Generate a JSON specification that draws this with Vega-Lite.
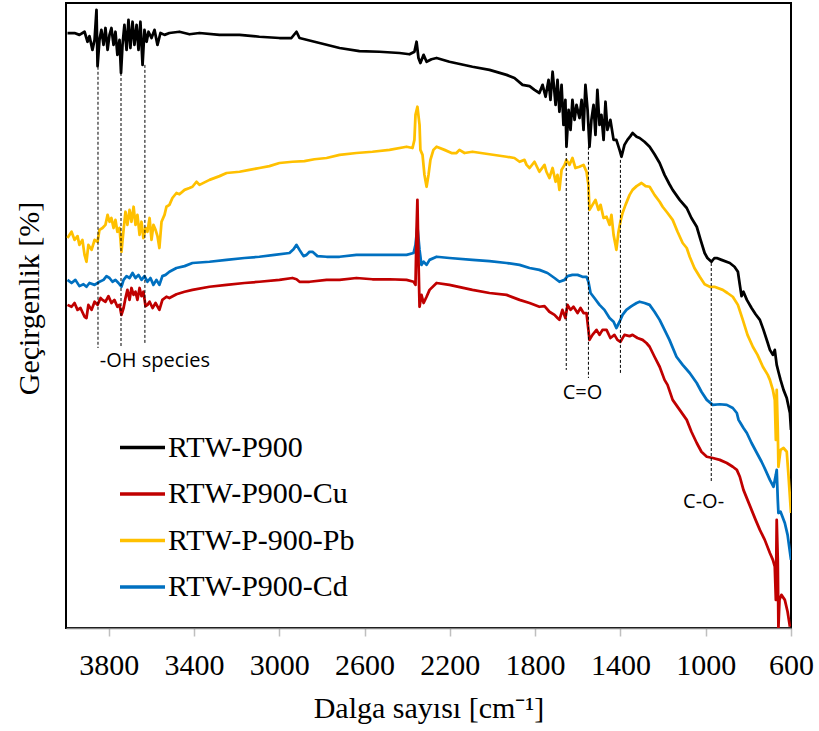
{
"$schema": "https://vega.github.io/schema/vega-lite/v6.json",
"width": 725, "height": 625,
"autosize": {"type": "none"},
"padding": {"left": 66, "top": 3, "right": 28, "bottom": 103},
"background": "white",
"config": {"view": {"stroke": "#000", "strokeWidth": 2}},
"datasets": {
"spec": [
{"s":"RTW-P900","wn":3993,"v":95.2},{"s":"RTW-P900","wn":3960,"v":95.2},{"s":"RTW-P900","wn":3937,"v":94.9},{"s":"RTW-P900","wn":3913,"v":95.4},{"s":"RTW-P900","wn":3899,"v":93.8},{"s":"RTW-P900","wn":3890,"v":94.7},{"s":"RTW-P900","wn":3876,"v":92.5},{"s":"RTW-P900","wn":3866,"v":94.1},{"s":"RTW-P900","wn":3857,"v":98.9},{"s":"RTW-P900","wn":3852,"v":89.9},{"s":"RTW-P900","wn":3843,"v":94.1},{"s":"RTW-P900","wn":3834,"v":95.7},{"s":"RTW-P900","wn":3824,"v":93.3},{"s":"RTW-P900","wn":3815,"v":96.0},{"s":"RTW-P900","wn":3805,"v":92.5},{"s":"RTW-P900","wn":3796,"v":94.9},{"s":"RTW-P900","wn":3787,"v":96.0},{"s":"RTW-P900","wn":3777,"v":93.3},{"s":"RTW-P900","wn":3768,"v":95.4},{"s":"RTW-P900","wn":3759,"v":91.7},{"s":"RTW-P900","wn":3749,"v":94.1},{"s":"RTW-P900","wn":3742,"v":88.8},{"s":"RTW-P900","wn":3735,"v":93.3},{"s":"RTW-P900","wn":3726,"v":96.5},{"s":"RTW-P900","wn":3716,"v":92.5},{"s":"RTW-P900","wn":3707,"v":97.3},{"s":"RTW-P900","wn":3698,"v":92.8},{"s":"RTW-P900","wn":3688,"v":97.0},{"s":"RTW-P900","wn":3679,"v":93.3},{"s":"RTW-P900","wn":3669,"v":96.5},{"s":"RTW-P900","wn":3660,"v":92.5},{"s":"RTW-P900","wn":3651,"v":97.0},{"s":"RTW-P900","wn":3641,"v":90.1},{"s":"RTW-P900","wn":3632,"v":95.7},{"s":"RTW-P900","wn":3622,"v":93.8},{"s":"RTW-P900","wn":3613,"v":95.4},{"s":"RTW-P900","wn":3599,"v":94.4},{"s":"RTW-P900","wn":3585,"v":95.7},{"s":"RTW-P900","wn":3571,"v":93.3},{"s":"RTW-P900","wn":3557,"v":95.2},{"s":"RTW-P900","wn":3538,"v":94.9},{"s":"RTW-P900","wn":3515,"v":95.2},{"s":"RTW-P900","wn":3468,"v":95.4},{"s":"RTW-P900","wn":3421,"v":95.0},{"s":"RTW-P900","wn":3374,"v":95.2},{"s":"RTW-P900","wn":3280,"v":94.9},{"s":"RTW-P900","wn":3186,"v":94.9},{"s":"RTW-P900","wn":3093,"v":94.6},{"s":"RTW-P900","wn":2999,"v":94.4},{"s":"RTW-P900","wn":2943,"v":94.4},{"s":"RTW-P900","wn":2919,"v":95.4},{"s":"RTW-P900","wn":2905,"v":94.4},{"s":"RTW-P900","wn":2811,"v":93.6},{"s":"RTW-P900","wn":2717,"v":92.8},{"s":"RTW-P900","wn":2624,"v":92.3},{"s":"RTW-P900","wn":2530,"v":92.2},{"s":"RTW-P900","wn":2436,"v":92.0},{"s":"RTW-P900","wn":2389,"v":91.8},{"s":"RTW-P900","wn":2366,"v":92.2},{"s":"RTW-P900","wn":2356,"v":93.8},{"s":"RTW-P900","wn":2347,"v":91.2},{"s":"RTW-P900","wn":2338,"v":90.4},{"s":"RTW-P900","wn":2323,"v":91.7},{"s":"RTW-P900","wn":2309,"v":90.6},{"s":"RTW-P900","wn":2286,"v":91.0},{"s":"RTW-P900","wn":2262,"v":91.2},{"s":"RTW-P900","wn":2202,"v":90.6},{"s":"RTW-P900","wn":2094,"v":89.8},{"s":"RTW-P900","wn":2014,"v":89.3},{"s":"RTW-P900","wn":1934,"v":88.5},{"s":"RTW-P900","wn":1897,"v":88.0},{"s":"RTW-P900","wn":1859,"v":86.9},{"s":"RTW-P900","wn":1826,"v":86.7},{"s":"RTW-P900","wn":1803,"v":86.1},{"s":"RTW-P900","wn":1780,"v":85.6},{"s":"RTW-P900","wn":1765,"v":86.9},{"s":"RTW-P900","wn":1751,"v":85.0},{"s":"RTW-P900","wn":1737,"v":87.7},{"s":"RTW-P900","wn":1728,"v":84.5},{"s":"RTW-P900","wn":1718,"v":89.0},{"s":"RTW-P900","wn":1704,"v":83.7},{"s":"RTW-P900","wn":1695,"v":87.7},{"s":"RTW-P900","wn":1686,"v":82.6},{"s":"RTW-P900","wn":1676,"v":86.9},{"s":"RTW-P900","wn":1667,"v":80.5},{"s":"RTW-P900","wn":1658,"v":84.5},{"s":"RTW-P900","wn":1653,"v":77.0},{"s":"RTW-P900","wn":1643,"v":82.9},{"s":"RTW-P900","wn":1634,"v":79.7},{"s":"RTW-P900","wn":1625,"v":84.5},{"s":"RTW-P900","wn":1615,"v":81.3},{"s":"RTW-P900","wn":1606,"v":83.7},{"s":"RTW-P900","wn":1592,"v":81.6},{"s":"RTW-P900","wn":1582,"v":84.5},{"s":"RTW-P900","wn":1573,"v":79.7},{"s":"RTW-P900","wn":1564,"v":86.9},{"s":"RTW-P900","wn":1554,"v":82.9},{"s":"RTW-P900","wn":1545,"v":77.0},{"s":"RTW-P900","wn":1536,"v":81.3},{"s":"RTW-P900","wn":1526,"v":83.7},{"s":"RTW-P900","wn":1517,"v":78.9},{"s":"RTW-P900","wn":1508,"v":86.1},{"s":"RTW-P900","wn":1498,"v":80.5},{"s":"RTW-P900","wn":1489,"v":82.1},{"s":"RTW-P900","wn":1479,"v":78.1},{"s":"RTW-P900","wn":1470,"v":84.2},{"s":"RTW-P900","wn":1461,"v":79.7},{"s":"RTW-P900","wn":1447,"v":81.3},{"s":"RTW-P900","wn":1432,"v":78.1},{"s":"RTW-P900","wn":1419,"v":78.1},{"s":"RTW-P900","wn":1404,"v":76.5},{"s":"RTW-P900","wn":1395,"v":75.4},{"s":"RTW-P900","wn":1381,"v":77.3},{"s":"RTW-P900","wn":1367,"v":78.1},{"s":"RTW-P900","wn":1353,"v":78.7},{"s":"RTW-P900","wn":1343,"v":79.2},{"s":"RTW-P900","wn":1324,"v":78.6},{"s":"RTW-P900","wn":1310,"v":78.4},{"s":"RTW-P900","wn":1287,"v":77.8},{"s":"RTW-P900","wn":1263,"v":77.0},{"s":"RTW-P900","wn":1240,"v":75.8},{"s":"RTW-P900","wn":1216,"v":74.4},{"s":"RTW-P900","wn":1193,"v":72.5},{"s":"RTW-P900","wn":1170,"v":71.0},{"s":"RTW-P900","wn":1155,"v":70.1},{"s":"RTW-P900","wn":1122,"v":68.5},{"s":"RTW-P900","wn":1089,"v":67.2},{"s":"RTW-P900","wn":1067,"v":65.6},{"s":"RTW-P900","wn":1042,"v":64.2},{"s":"RTW-P900","wn":1024,"v":62.1},{"s":"RTW-P900","wn":1005,"v":60.0},{"s":"RTW-P900","wn":992,"v":59.2},{"s":"RTW-P900","wn":973,"v":58.6},{"s":"RTW-P900","wn":959,"v":59.2},{"s":"RTW-P900","wn":948,"v":59.2},{"s":"RTW-P900","wn":926,"v":58.9},{"s":"RTW-P900","wn":887,"v":58.4},{"s":"RTW-P900","wn":865,"v":57.8},{"s":"RTW-P900","wn":849,"v":57.0},{"s":"RTW-P900","wn":840,"v":54.9},{"s":"RTW-P900","wn":832,"v":53.1},{"s":"RTW-P900","wn":823,"v":53.8},{"s":"RTW-P900","wn":807,"v":52.5},{"s":"RTW-P900","wn":785,"v":51.2},{"s":"RTW-P900","wn":766,"v":50.2},{"s":"RTW-P900","wn":746,"v":49.3},{"s":"RTW-P900","wn":729,"v":47.7},{"s":"RTW-P900","wn":709,"v":45.6},{"s":"RTW-P900","wn":699,"v":44.5},{"s":"RTW-P900","wn":685,"v":43.7},{"s":"RTW-P900","wn":676,"v":44.5},{"s":"RTW-P900","wn":667,"v":42.1},{"s":"RTW-P900","wn":659,"v":41.0},{"s":"RTW-P900","wn":649,"v":39.7},{"s":"RTW-P900","wn":635,"v":38.1},{"s":"RTW-P900","wn":620,"v":36.8},{"s":"RTW-P900","wn":605,"v":34.4},{"s":"RTW-P900","wn":600,"v":31.7},
{"s":"RTW-P-900-Pb","wn":3993,"v":62.4},{"s":"RTW-P-900-Pb","wn":3974,"v":63.4},{"s":"RTW-P-900-Pb","wn":3960,"v":62.1},{"s":"RTW-P-900-Pb","wn":3946,"v":62.7},{"s":"RTW-P-900-Pb","wn":3937,"v":61.3},{"s":"RTW-P-900-Pb","wn":3923,"v":62.1},{"s":"RTW-P-900-Pb","wn":3913,"v":59.7},{"s":"RTW-P-900-Pb","wn":3904,"v":58.6},{"s":"RTW-P-900-Pb","wn":3895,"v":61.3},{"s":"RTW-P-900-Pb","wn":3880,"v":60.5},{"s":"RTW-P-900-Pb","wn":3866,"v":62.1},{"s":"RTW-P-900-Pb","wn":3852,"v":61.8},{"s":"RTW-P-900-Pb","wn":3843,"v":63.7},{"s":"RTW-P-900-Pb","wn":3829,"v":64.0},{"s":"RTW-P-900-Pb","wn":3815,"v":64.5},{"s":"RTW-P-900-Pb","wn":3805,"v":66.1},{"s":"RTW-P-900-Pb","wn":3796,"v":65.0},{"s":"RTW-P-900-Pb","wn":3787,"v":65.6},{"s":"RTW-P-900-Pb","wn":3777,"v":64.0},{"s":"RTW-P-900-Pb","wn":3768,"v":65.3},{"s":"RTW-P-900-Pb","wn":3759,"v":63.4},{"s":"RTW-P-900-Pb","wn":3749,"v":64.0},{"s":"RTW-P-900-Pb","wn":3740,"v":60.2},{"s":"RTW-P-900-Pb","wn":3730,"v":63.7},{"s":"RTW-P-900-Pb","wn":3721,"v":66.6},{"s":"RTW-P-900-Pb","wn":3712,"v":64.5},{"s":"RTW-P-900-Pb","wn":3702,"v":66.9},{"s":"RTW-P-900-Pb","wn":3693,"v":65.0},{"s":"RTW-P-900-Pb","wn":3683,"v":67.4},{"s":"RTW-P-900-Pb","wn":3674,"v":64.5},{"s":"RTW-P-900-Pb","wn":3665,"v":66.1},{"s":"RTW-P-900-Pb","wn":3655,"v":62.9},{"s":"RTW-P-900-Pb","wn":3646,"v":65.0},{"s":"RTW-P-900-Pb","wn":3637,"v":62.4},{"s":"RTW-P-900-Pb","wn":3627,"v":64.0},{"s":"RTW-P-900-Pb","wn":3618,"v":63.4},{"s":"RTW-P-900-Pb","wn":3608,"v":65.6},{"s":"RTW-P-900-Pb","wn":3599,"v":62.1},{"s":"RTW-P-900-Pb","wn":3590,"v":64.5},{"s":"RTW-P-900-Pb","wn":3580,"v":63.7},{"s":"RTW-P-900-Pb","wn":3571,"v":62.7},{"s":"RTW-P-900-Pb","wn":3562,"v":60.8},{"s":"RTW-P-900-Pb","wn":3552,"v":65.0},{"s":"RTW-P-900-Pb","wn":3538,"v":66.1},{"s":"RTW-P-900-Pb","wn":3529,"v":67.4},{"s":"RTW-P-900-Pb","wn":3515,"v":67.7},{"s":"RTW-P-900-Pb","wn":3501,"v":68.8},{"s":"RTW-P-900-Pb","wn":3482,"v":69.6},{"s":"RTW-P-900-Pb","wn":3468,"v":69.4},{"s":"RTW-P-900-Pb","wn":3444,"v":70.1},{"s":"RTW-P-900-Pb","wn":3421,"v":70.4},{"s":"RTW-P-900-Pb","wn":3407,"v":70.6},{"s":"RTW-P-900-Pb","wn":3388,"v":71.4},{"s":"RTW-P-900-Pb","wn":3374,"v":70.9},{"s":"RTW-P-900-Pb","wn":3327,"v":71.7},{"s":"RTW-P-900-Pb","wn":3280,"v":72.3},{"s":"RTW-P-900-Pb","wn":3247,"v":72.8},{"s":"RTW-P-900-Pb","wn":3186,"v":73.0},{"s":"RTW-P-900-Pb","wn":3140,"v":73.3},{"s":"RTW-P-900-Pb","wn":3093,"v":73.6},{"s":"RTW-P-900-Pb","wn":3046,"v":73.9},{"s":"RTW-P-900-Pb","wn":2999,"v":74.4},{"s":"RTW-P-900-Pb","wn":2938,"v":74.6},{"s":"RTW-P-900-Pb","wn":2882,"v":74.7},{"s":"RTW-P-900-Pb","wn":2835,"v":75.0},{"s":"RTW-P-900-Pb","wn":2778,"v":75.2},{"s":"RTW-P-900-Pb","wn":2717,"v":75.7},{"s":"RTW-P-900-Pb","wn":2638,"v":76.0},{"s":"RTW-P-900-Pb","wn":2563,"v":76.2},{"s":"RTW-P-900-Pb","wn":2483,"v":76.5},{"s":"RTW-P-900-Pb","wn":2403,"v":77.0},{"s":"RTW-P-900-Pb","wn":2375,"v":76.8},{"s":"RTW-P-900-Pb","wn":2366,"v":78.1},{"s":"RTW-P-900-Pb","wn":2361,"v":82.1},{"s":"RTW-P-900-Pb","wn":2352,"v":83.4},{"s":"RTW-P-900-Pb","wn":2342,"v":80.5},{"s":"RTW-P-900-Pb","wn":2338,"v":76.5},{"s":"RTW-P-900-Pb","wn":2328,"v":75.7},{"s":"RTW-P-900-Pb","wn":2319,"v":72.5},{"s":"RTW-P-900-Pb","wn":2309,"v":70.6},{"s":"RTW-P-900-Pb","wn":2300,"v":72.5},{"s":"RTW-P-900-Pb","wn":2291,"v":74.9},{"s":"RTW-P-900-Pb","wn":2277,"v":76.5},{"s":"RTW-P-900-Pb","wn":2262,"v":77.0},{"s":"RTW-P-900-Pb","wn":2225,"v":76.5},{"s":"RTW-P-900-Pb","wn":2192,"v":76.0},{"s":"RTW-P-900-Pb","wn":2169,"v":76.0},{"s":"RTW-P-900-Pb","wn":2155,"v":76.5},{"s":"RTW-P-900-Pb","wn":2131,"v":76.0},{"s":"RTW-P-900-Pb","wn":2094,"v":76.2},{"s":"RTW-P-900-Pb","wn":2014,"v":75.8},{"s":"RTW-P-900-Pb","wn":1934,"v":75.4},{"s":"RTW-P-900-Pb","wn":1897,"v":75.2},{"s":"RTW-P-900-Pb","wn":1873,"v":74.6},{"s":"RTW-P-900-Pb","wn":1850,"v":74.9},{"s":"RTW-P-900-Pb","wn":1840,"v":74.1},{"s":"RTW-P-900-Pb","wn":1826,"v":73.6},{"s":"RTW-P-900-Pb","wn":1803,"v":74.6},{"s":"RTW-P-900-Pb","wn":1780,"v":73.0},{"s":"RTW-P-900-Pb","wn":1756,"v":74.1},{"s":"RTW-P-900-Pb","wn":1747,"v":73.0},{"s":"RTW-P-900-Pb","wn":1733,"v":72.0},{"s":"RTW-P-900-Pb","wn":1718,"v":73.6},{"s":"RTW-P-900-Pb","wn":1704,"v":71.4},{"s":"RTW-P-900-Pb","wn":1695,"v":72.5},{"s":"RTW-P-900-Pb","wn":1686,"v":70.1},{"s":"RTW-P-900-Pb","wn":1676,"v":73.3},{"s":"RTW-P-900-Pb","wn":1662,"v":74.1},{"s":"RTW-P-900-Pb","wn":1653,"v":74.9},{"s":"RTW-P-900-Pb","wn":1639,"v":74.1},{"s":"RTW-P-900-Pb","wn":1625,"v":75.2},{"s":"RTW-P-900-Pb","wn":1611,"v":73.6},{"s":"RTW-P-900-Pb","wn":1592,"v":73.8},{"s":"RTW-P-900-Pb","wn":1573,"v":74.1},{"s":"RTW-P-900-Pb","wn":1559,"v":73.0},{"s":"RTW-P-900-Pb","wn":1550,"v":70.9},{"s":"RTW-P-900-Pb","wn":1545,"v":66.9},{"s":"RTW-P-900-Pb","wn":1531,"v":67.7},{"s":"RTW-P-900-Pb","wn":1517,"v":68.5},{"s":"RTW-P-900-Pb","wn":1503,"v":66.9},{"s":"RTW-P-900-Pb","wn":1493,"v":67.7},{"s":"RTW-P-900-Pb","wn":1479,"v":65.6},{"s":"RTW-P-900-Pb","wn":1465,"v":65.8},{"s":"RTW-P-900-Pb","wn":1451,"v":64.5},{"s":"RTW-P-900-Pb","wn":1442,"v":66.1},{"s":"RTW-P-900-Pb","wn":1432,"v":62.9},{"s":"RTW-P-900-Pb","wn":1423,"v":61.3},{"s":"RTW-P-900-Pb","wn":1419,"v":60.5},{"s":"RTW-P-900-Pb","wn":1409,"v":63.4},{"s":"RTW-P-900-Pb","wn":1400,"v":65.0},{"s":"RTW-P-900-Pb","wn":1390,"v":66.4},{"s":"RTW-P-900-Pb","wn":1376,"v":67.7},{"s":"RTW-P-900-Pb","wn":1357,"v":69.3},{"s":"RTW-P-900-Pb","wn":1343,"v":70.1},{"s":"RTW-P-900-Pb","wn":1324,"v":70.7},{"s":"RTW-P-900-Pb","wn":1301,"v":71.2},{"s":"RTW-P-900-Pb","wn":1282,"v":70.7},{"s":"RTW-P-900-Pb","wn":1263,"v":70.6},{"s":"RTW-P-900-Pb","wn":1240,"v":69.3},{"s":"RTW-P-900-Pb","wn":1216,"v":68.2},{"s":"RTW-P-900-Pb","wn":1202,"v":67.4},{"s":"RTW-P-900-Pb","wn":1179,"v":66.4},{"s":"RTW-P-900-Pb","wn":1155,"v":65.3},{"s":"RTW-P-900-Pb","wn":1132,"v":63.4},{"s":"RTW-P-900-Pb","wn":1108,"v":61.6},{"s":"RTW-P-900-Pb","wn":1089,"v":60.8},{"s":"RTW-P-900-Pb","wn":1075,"v":59.4},{"s":"RTW-P-900-Pb","wn":1053,"v":57.6},{"s":"RTW-P-900-Pb","wn":1028,"v":56.2},{"s":"RTW-P-900-Pb","wn":1005,"v":55.0},{"s":"RTW-P-900-Pb","wn":981,"v":54.6},{"s":"RTW-P-900-Pb","wn":959,"v":54.6},{"s":"RTW-P-900-Pb","wn":920,"v":54.1},{"s":"RTW-P-900-Pb","wn":898,"v":53.6},{"s":"RTW-P-900-Pb","wn":873,"v":53.0},{"s":"RTW-P-900-Pb","wn":849,"v":51.7},{"s":"RTW-P-900-Pb","wn":826,"v":49.3},{"s":"RTW-P-900-Pb","wn":804,"v":46.9},{"s":"RTW-P-900-Pb","wn":779,"v":45.0},{"s":"RTW-P-900-Pb","wn":757,"v":43.7},{"s":"RTW-P-900-Pb","wn":732,"v":41.8},{"s":"RTW-P-900-Pb","wn":709,"v":40.5},{"s":"RTW-P-900-Pb","wn":699,"v":39.7},{"s":"RTW-P-900-Pb","wn":685,"v":38.1},{"s":"RTW-P-900-Pb","wn":676,"v":36.5},{"s":"RTW-P-900-Pb","wn":671,"v":30.1},{"s":"RTW-P-900-Pb","wn":667,"v":38.1},{"s":"RTW-P-900-Pb","wn":662,"v":31.7},{"s":"RTW-P-900-Pb","wn":659,"v":25.8},{"s":"RTW-P-900-Pb","wn":649,"v":28.5},{"s":"RTW-P-900-Pb","wn":635,"v":28.8},{"s":"RTW-P-900-Pb","wn":620,"v":28.2},{"s":"RTW-P-900-Pb","wn":612,"v":24.5},{"s":"RTW-P-900-Pb","wn":600,"v":18.4},
{"s":"RTW-P900-Cd","wn":3993,"v":55.7},{"s":"RTW-P900-Cd","wn":3974,"v":55.2},{"s":"RTW-P900-Cd","wn":3956,"v":55.7},{"s":"RTW-P900-Cd","wn":3937,"v":54.7},{"s":"RTW-P900-Cd","wn":3918,"v":55.0},{"s":"RTW-P900-Cd","wn":3904,"v":54.6},{"s":"RTW-P900-Cd","wn":3890,"v":55.2},{"s":"RTW-P900-Cd","wn":3866,"v":54.9},{"s":"RTW-P900-Cd","wn":3843,"v":55.4},{"s":"RTW-P900-Cd","wn":3824,"v":55.7},{"s":"RTW-P900-Cd","wn":3810,"v":56.3},{"s":"RTW-P900-Cd","wn":3796,"v":56.0},{"s":"RTW-P900-Cd","wn":3782,"v":55.4},{"s":"RTW-P900-Cd","wn":3768,"v":55.7},{"s":"RTW-P900-Cd","wn":3754,"v":55.2},{"s":"RTW-P900-Cd","wn":3740,"v":54.6},{"s":"RTW-P900-Cd","wn":3730,"v":55.7},{"s":"RTW-P900-Cd","wn":3716,"v":56.3},{"s":"RTW-P900-Cd","wn":3702,"v":56.0},{"s":"RTW-P900-Cd","wn":3688,"v":56.8},{"s":"RTW-P900-Cd","wn":3674,"v":56.0},{"s":"RTW-P900-Cd","wn":3660,"v":56.5},{"s":"RTW-P900-Cd","wn":3646,"v":55.7},{"s":"RTW-P900-Cd","wn":3632,"v":56.3},{"s":"RTW-P900-Cd","wn":3618,"v":55.4},{"s":"RTW-P900-Cd","wn":3604,"v":56.0},{"s":"RTW-P900-Cd","wn":3590,"v":54.9},{"s":"RTW-P900-Cd","wn":3576,"v":55.7},{"s":"RTW-P900-Cd","wn":3562,"v":54.9},{"s":"RTW-P900-Cd","wn":3548,"v":56.3},{"s":"RTW-P900-Cd","wn":3533,"v":56.5},{"s":"RTW-P900-Cd","wn":3515,"v":57.0},{"s":"RTW-P900-Cd","wn":3482,"v":57.6},{"s":"RTW-P900-Cd","wn":3444,"v":57.9},{"s":"RTW-P900-Cd","wn":3407,"v":58.4},{"s":"RTW-P900-Cd","wn":3327,"v":58.6},{"s":"RTW-P900-Cd","wn":3247,"v":58.9},{"s":"RTW-P900-Cd","wn":3163,"v":59.2},{"s":"RTW-P900-Cd","wn":3093,"v":59.4},{"s":"RTW-P900-Cd","wn":3022,"v":59.7},{"s":"RTW-P900-Cd","wn":2952,"v":60.0},{"s":"RTW-P900-Cd","wn":2933,"v":60.6},{"s":"RTW-P900-Cd","wn":2919,"v":61.3},{"s":"RTW-P900-Cd","wn":2905,"v":60.5},{"s":"RTW-P900-Cd","wn":2886,"v":59.5},{"s":"RTW-P900-Cd","wn":2872,"v":59.7},{"s":"RTW-P900-Cd","wn":2858,"v":60.2},{"s":"RTW-P900-Cd","wn":2844,"v":60.2},{"s":"RTW-P900-Cd","wn":2821,"v":59.5},{"s":"RTW-P900-Cd","wn":2778,"v":59.4},{"s":"RTW-P900-Cd","wn":2717,"v":59.4},{"s":"RTW-P900-Cd","wn":2638,"v":59.7},{"s":"RTW-P900-Cd","wn":2563,"v":59.7},{"s":"RTW-P900-Cd","wn":2483,"v":59.7},{"s":"RTW-P900-Cd","wn":2403,"v":59.7},{"s":"RTW-P900-Cd","wn":2370,"v":60.0},{"s":"RTW-P900-Cd","wn":2361,"v":61.3},{"s":"RTW-P900-Cd","wn":2352,"v":64.2},{"s":"RTW-P900-Cd","wn":2342,"v":60.5},{"s":"RTW-P900-Cd","wn":2333,"v":58.1},{"s":"RTW-P900-Cd","wn":2323,"v":58.6},{"s":"RTW-P900-Cd","wn":2309,"v":58.1},{"s":"RTW-P900-Cd","wn":2295,"v":58.9},{"s":"RTW-P900-Cd","wn":2262,"v":59.4},{"s":"RTW-P900-Cd","wn":2202,"v":59.2},{"s":"RTW-P900-Cd","wn":2094,"v":58.9},{"s":"RTW-P900-Cd","wn":2014,"v":58.7},{"s":"RTW-P900-Cd","wn":1934,"v":58.4},{"s":"RTW-P900-Cd","wn":1873,"v":58.1},{"s":"RTW-P900-Cd","wn":1826,"v":57.6},{"s":"RTW-P900-Cd","wn":1780,"v":57.3},{"s":"RTW-P900-Cd","wn":1742,"v":56.8},{"s":"RTW-P900-Cd","wn":1709,"v":56.0},{"s":"RTW-P900-Cd","wn":1686,"v":55.4},{"s":"RTW-P900-Cd","wn":1662,"v":55.7},{"s":"RTW-P900-Cd","wn":1648,"v":56.3},{"s":"RTW-P900-Cd","wn":1625,"v":56.5},{"s":"RTW-P900-Cd","wn":1601,"v":56.5},{"s":"RTW-P900-Cd","wn":1578,"v":56.2},{"s":"RTW-P900-Cd","wn":1559,"v":56.2},{"s":"RTW-P900-Cd","wn":1550,"v":55.4},{"s":"RTW-P900-Cd","wn":1540,"v":53.6},{"s":"RTW-P900-Cd","wn":1522,"v":52.8},{"s":"RTW-P900-Cd","wn":1498,"v":51.7},{"s":"RTW-P900-Cd","wn":1475,"v":50.9},{"s":"RTW-P900-Cd","wn":1451,"v":49.6},{"s":"RTW-P900-Cd","wn":1432,"v":49.0},{"s":"RTW-P900-Cd","wn":1419,"v":48.0},{"s":"RTW-P900-Cd","wn":1404,"v":49.0},{"s":"RTW-P900-Cd","wn":1390,"v":50.1},{"s":"RTW-P900-Cd","wn":1372,"v":50.9},{"s":"RTW-P900-Cd","wn":1348,"v":51.5},{"s":"RTW-P900-Cd","wn":1324,"v":52.0},{"s":"RTW-P900-Cd","wn":1310,"v":52.2},{"s":"RTW-P900-Cd","wn":1287,"v":52.0},{"s":"RTW-P900-Cd","wn":1263,"v":51.7},{"s":"RTW-P900-Cd","wn":1240,"v":50.6},{"s":"RTW-P900-Cd","wn":1216,"v":49.3},{"s":"RTW-P900-Cd","wn":1193,"v":47.7},{"s":"RTW-P900-Cd","wn":1170,"v":46.1},{"s":"RTW-P900-Cd","wn":1137,"v":43.4},{"s":"RTW-P900-Cd","wn":1108,"v":42.1},{"s":"RTW-P900-Cd","wn":1075,"v":40.8},{"s":"RTW-P900-Cd","wn":1042,"v":39.2},{"s":"RTW-P900-Cd","wn":1020,"v":37.8},{"s":"RTW-P900-Cd","wn":995,"v":36.5},{"s":"RTW-P900-Cd","wn":967,"v":35.7},{"s":"RTW-P900-Cd","wn":934,"v":35.8},{"s":"RTW-P900-Cd","wn":901,"v":35.7},{"s":"RTW-P900-Cd","wn":873,"v":35.2},{"s":"RTW-P900-Cd","wn":854,"v":34.4},{"s":"RTW-P900-Cd","wn":846,"v":33.3},{"s":"RTW-P900-Cd","wn":837,"v":32.8},{"s":"RTW-P900-Cd","wn":823,"v":32.0},{"s":"RTW-P900-Cd","wn":807,"v":31.2},{"s":"RTW-P900-Cd","wn":785,"v":29.6},{"s":"RTW-P900-Cd","wn":760,"v":28.0},{"s":"RTW-P900-Cd","wn":738,"v":26.6},{"s":"RTW-P900-Cd","wn":720,"v":25.3},{"s":"RTW-P900-Cd","wn":699,"v":23.7},{"s":"RTW-P900-Cd","wn":682,"v":22.6},{"s":"RTW-P900-Cd","wn":671,"v":24.5},{"s":"RTW-P900-Cd","wn":667,"v":25.3},{"s":"RTW-P900-Cd","wn":662,"v":20.5},{"s":"RTW-P900-Cd","wn":659,"v":18.4},{"s":"RTW-P900-Cd","wn":649,"v":18.6},{"s":"RTW-P900-Cd","wn":629,"v":16.8},{"s":"RTW-P900-Cd","wn":616,"v":14.9},{"s":"RTW-P900-Cd","wn":600,"v":10.9},
{"s":"RTW-P900-Cu","wn":3993,"v":51.7},{"s":"RTW-P900-Cu","wn":3974,"v":51.4},{"s":"RTW-P900-Cu","wn":3960,"v":52.0},{"s":"RTW-P900-Cu","wn":3946,"v":50.9},{"s":"RTW-P900-Cu","wn":3932,"v":51.2},{"s":"RTW-P900-Cu","wn":3913,"v":49.8},{"s":"RTW-P900-Cu","wn":3904,"v":49.6},{"s":"RTW-P900-Cu","wn":3895,"v":51.7},{"s":"RTW-P900-Cu","wn":3880,"v":50.9},{"s":"RTW-P900-Cu","wn":3866,"v":52.2},{"s":"RTW-P900-Cu","wn":3852,"v":51.7},{"s":"RTW-P900-Cu","wn":3838,"v":52.8},{"s":"RTW-P900-Cu","wn":3829,"v":52.5},{"s":"RTW-P900-Cu","wn":3815,"v":52.2},{"s":"RTW-P900-Cu","wn":3801,"v":53.1},{"s":"RTW-P900-Cu","wn":3787,"v":52.0},{"s":"RTW-P900-Cu","wn":3773,"v":52.5},{"s":"RTW-P900-Cu","wn":3759,"v":51.4},{"s":"RTW-P900-Cu","wn":3749,"v":51.7},{"s":"RTW-P900-Cu","wn":3740,"v":50.1},{"s":"RTW-P900-Cu","wn":3730,"v":51.2},{"s":"RTW-P900-Cu","wn":3721,"v":52.8},{"s":"RTW-P900-Cu","wn":3712,"v":54.1},{"s":"RTW-P900-Cu","wn":3702,"v":52.5},{"s":"RTW-P900-Cu","wn":3693,"v":54.4},{"s":"RTW-P900-Cu","wn":3683,"v":53.3},{"s":"RTW-P900-Cu","wn":3674,"v":53.8},{"s":"RTW-P900-Cu","wn":3665,"v":52.5},{"s":"RTW-P900-Cu","wn":3655,"v":54.4},{"s":"RTW-P900-Cu","wn":3646,"v":53.1},{"s":"RTW-P900-Cu","wn":3637,"v":53.8},{"s":"RTW-P900-Cu","wn":3627,"v":51.5},{"s":"RTW-P900-Cu","wn":3618,"v":51.7},{"s":"RTW-P900-Cu","wn":3608,"v":52.2},{"s":"RTW-P900-Cu","wn":3594,"v":51.2},{"s":"RTW-P900-Cu","wn":3580,"v":52.0},{"s":"RTW-P900-Cu","wn":3562,"v":50.9},{"s":"RTW-P900-Cu","wn":3548,"v":52.5},{"s":"RTW-P900-Cu","wn":3529,"v":53.0},{"s":"RTW-P900-Cu","wn":3515,"v":52.8},{"s":"RTW-P900-Cu","wn":3482,"v":53.4},{"s":"RTW-P900-Cu","wn":3444,"v":53.8},{"s":"RTW-P900-Cu","wn":3407,"v":54.1},{"s":"RTW-P900-Cu","wn":3327,"v":54.6},{"s":"RTW-P900-Cu","wn":3247,"v":54.9},{"s":"RTW-P900-Cu","wn":3163,"v":55.2},{"s":"RTW-P900-Cu","wn":3093,"v":55.4},{"s":"RTW-P900-Cu","wn":2999,"v":55.7},{"s":"RTW-P900-Cu","wn":2938,"v":56.0},{"s":"RTW-P900-Cu","wn":2919,"v":55.8},{"s":"RTW-P900-Cu","wn":2905,"v":55.4},{"s":"RTW-P900-Cu","wn":2858,"v":55.4},{"s":"RTW-P900-Cu","wn":2778,"v":55.7},{"s":"RTW-P900-Cu","wn":2717,"v":55.7},{"s":"RTW-P900-Cu","wn":2638,"v":56.0},{"s":"RTW-P900-Cu","wn":2563,"v":55.8},{"s":"RTW-P900-Cu","wn":2483,"v":55.8},{"s":"RTW-P900-Cu","wn":2403,"v":55.7},{"s":"RTW-P900-Cu","wn":2370,"v":55.4},{"s":"RTW-P900-Cu","wn":2361,"v":54.9},{"s":"RTW-P900-Cu","wn":2356,"v":63.7},{"s":"RTW-P900-Cu","wn":2352,"v":68.5},{"s":"RTW-P900-Cu","wn":2347,"v":58.9},{"s":"RTW-P900-Cu","wn":2342,"v":51.4},{"s":"RTW-P900-Cu","wn":2333,"v":53.3},{"s":"RTW-P900-Cu","wn":2323,"v":52.0},{"s":"RTW-P900-Cu","wn":2309,"v":53.0},{"s":"RTW-P900-Cu","wn":2295,"v":54.1},{"s":"RTW-P900-Cu","wn":2262,"v":55.2},{"s":"RTW-P900-Cu","wn":2202,"v":54.9},{"s":"RTW-P900-Cu","wn":2094,"v":54.1},{"s":"RTW-P900-Cu","wn":2014,"v":53.6},{"s":"RTW-P900-Cu","wn":1934,"v":53.3},{"s":"RTW-P900-Cu","wn":1873,"v":52.5},{"s":"RTW-P900-Cu","wn":1826,"v":52.0},{"s":"RTW-P900-Cu","wn":1780,"v":51.4},{"s":"RTW-P900-Cu","wn":1756,"v":51.5},{"s":"RTW-P900-Cu","wn":1733,"v":50.6},{"s":"RTW-P900-Cu","wn":1709,"v":50.1},{"s":"RTW-P900-Cu","wn":1695,"v":49.6},{"s":"RTW-P900-Cu","wn":1686,"v":49.3},{"s":"RTW-P900-Cu","wn":1672,"v":50.9},{"s":"RTW-P900-Cu","wn":1658,"v":49.6},{"s":"RTW-P900-Cu","wn":1648,"v":51.7},{"s":"RTW-P900-Cu","wn":1634,"v":50.9},{"s":"RTW-P900-Cu","wn":1620,"v":51.4},{"s":"RTW-P900-Cu","wn":1601,"v":50.4},{"s":"RTW-P900-Cu","wn":1587,"v":51.2},{"s":"RTW-P900-Cu","wn":1573,"v":50.4},{"s":"RTW-P900-Cu","wn":1559,"v":50.4},{"s":"RTW-P900-Cu","wn":1550,"v":47.7},{"s":"RTW-P900-Cu","wn":1545,"v":46.1},{"s":"RTW-P900-Cu","wn":1531,"v":46.9},{"s":"RTW-P900-Cu","wn":1512,"v":47.7},{"s":"RTW-P900-Cu","wn":1498,"v":46.9},{"s":"RTW-P900-Cu","wn":1484,"v":47.7},{"s":"RTW-P900-Cu","wn":1465,"v":47.7},{"s":"RTW-P900-Cu","wn":1447,"v":46.4},{"s":"RTW-P900-Cu","wn":1428,"v":46.9},{"s":"RTW-P900-Cu","wn":1414,"v":46.1},{"s":"RTW-P900-Cu","wn":1400,"v":45.8},{"s":"RTW-P900-Cu","wn":1381,"v":46.9},{"s":"RTW-P900-Cu","wn":1357,"v":46.7},{"s":"RTW-P900-Cu","wn":1343,"v":46.9},{"s":"RTW-P900-Cu","wn":1320,"v":46.4},{"s":"RTW-P900-Cu","wn":1296,"v":46.1},{"s":"RTW-P900-Cu","wn":1278,"v":45.6},{"s":"RTW-P900-Cu","wn":1263,"v":45.0},{"s":"RTW-P900-Cu","wn":1240,"v":43.4},{"s":"RTW-P900-Cu","wn":1216,"v":41.8},{"s":"RTW-P900-Cu","wn":1193,"v":39.7},{"s":"RTW-P900-Cu","wn":1179,"v":38.9},{"s":"RTW-P900-Cu","wn":1155,"v":36.5},{"s":"RTW-P900-Cu","wn":1122,"v":34.9},{"s":"RTW-P900-Cu","wn":1089,"v":33.3},{"s":"RTW-P900-Cu","wn":1067,"v":31.4},{"s":"RTW-P900-Cu","wn":1042,"v":29.6},{"s":"RTW-P900-Cu","wn":1020,"v":28.2},{"s":"RTW-P900-Cu","wn":995,"v":27.4},{"s":"RTW-P900-Cu","wn":967,"v":27.2},{"s":"RTW-P900-Cu","wn":934,"v":26.9},{"s":"RTW-P900-Cu","wn":901,"v":26.4},{"s":"RTW-P900-Cu","wn":873,"v":25.8},{"s":"RTW-P900-Cu","wn":854,"v":25.3},{"s":"RTW-P900-Cu","wn":840,"v":24.2},{"s":"RTW-P900-Cu","wn":823,"v":22.1},{"s":"RTW-P900-Cu","wn":804,"v":20.5},{"s":"RTW-P900-Cu","wn":785,"v":18.9},{"s":"RTW-P900-Cu","wn":766,"v":17.3},{"s":"RTW-P900-Cu","wn":746,"v":15.7},{"s":"RTW-P900-Cu","wn":723,"v":14.1},{"s":"RTW-P900-Cu","wn":699,"v":12.0},{"s":"RTW-P900-Cu","wn":685,"v":10.9},{"s":"RTW-P900-Cu","wn":676,"v":9.8},{"s":"RTW-P900-Cu","wn":671,"v":4.5},{"s":"RTW-P900-Cu","wn":667,"v":17.3},{"s":"RTW-P900-Cu","wn":662,"v":10.9},{"s":"RTW-P900-Cu","wn":659,"v":0},{"s":"RTW-P900-Cu","wn":654,"v":4.5},{"s":"RTW-P900-Cu","wn":645,"v":5.3},{"s":"RTW-P900-Cu","wn":629,"v":4.5},{"s":"RTW-P900-Cu","wn":616,"v":2.6},{"s":"RTW-P900-Cu","wn":605,"v":0.2}
],
"marks": [{"wn":3850,"v":89.8,"v2":44.8},{"wn":3742,"v":88.8,"v2":44.8},{"wn":3630,"v":90.1,"v2":45.6},{"wn":1654,"v":76.0,"v2":41.3},{"wn":1550,"v":77.0,"v2":40.0},{"wn":1400,"v":74.9,"v2":40.5},{"wn":974,"v":58.4,"v2":23.4}],
"labels": [{"wn":3583,"v":42.7,"t":"-OH species"},{"wn":1578,"v":37.6,"t":"C=O"},{"wn":1010,"v":20.2,"t":"C-O-"}]
},
"layer": [
{
"data": {"name": "spec"},
"mark": {"type": "line", "strokeWidth": 2.75, "clip": true, "strokeJoin": "round"},
"encoding": {
"x": {"field": "wn", "type": "quantitative", "scale": {"domain": [600, 4000], "reverse": true, "nice": false, "zero": false},
"axis": {"values": [3800,3400,3000,2600,2200,1800,1400,1000,600], "grid": false, "title": "Dalga sayısı [cm⁻¹]", "labelFont": "Liberation Serif", "labelFontSize": 30, "labelColor": "#000", "labelPadding": 14, "labelFlush": false, "labelOverlap": false, "labelBound": false, "tickColor": "#bfbfbf", "tickSize": 8, "tickWidth": 1.5, "domainColor": "#808080", "domainWidth": 1.5, "titleFont": "Liberation Serif", "titleFontSize": 30, "titleFontWeight": "normal", "titleColor": "#000", "titlePadding": 13, "format": "d"}},
"y": {"field": "v", "type": "quantitative", "scale": {"domain": [0, 100], "nice": false, "zero": false},
"axis": {"title": "Geçirgenlik [%]", "labels": false, "ticks": false, "grid": false, "domain": false, "titleFont": "Liberation Serif", "titleFontSize": 30, "titleFontWeight": "normal", "titleColor": "#000", "titleX": -37, "titleY": 295, "titleAngle": -90, "titleBaseline": "middle", "titleAlign": "center"}},
"color": {"field": "s", "type": "nominal",
"scale": {"domain": ["RTW-P900", "RTW-P900-Cu", "RTW-P-900-Pb", "RTW-P900-Cd"], "range": ["#000000", "#C00000", "#FFC000", "#0070C0"]},
"legend": {"orient": "none", "legendX": 52, "legendY": 420, "title": null, "symbolType": "stroke", "symbolSize": 2025, "symbolStrokeWidth": 3.5, "labelFont": "Liberation Serif", "labelFontSize": 30, "labelColor": "#000", "labelOffset": 1, "rowPadding": 6.5, "padding": 0, "labelLimit": 400}}
}
},
{
"data": {"name": "marks"},
"mark": {"type": "rule", "color": "#000", "strokeWidth": 1, "strokeDash": [3, 2]},
"encoding": {
"x": {"field": "wn", "type": "quantitative"},
"y": {"field": "v", "type": "quantitative"},
"y2": {"field": "v2"}
}
},
{
"data": {"name": "labels"},
"mark": {"type": "text", "font": "Open Sans", "fontSize": 20, "color": "#000", "align": "center", "baseline": "middle"},
"encoding": {
"x": {"field": "wn", "type": "quantitative"},
"y": {"field": "v", "type": "quantitative"},
"text": {"field": "t"}
}
}
]
}
